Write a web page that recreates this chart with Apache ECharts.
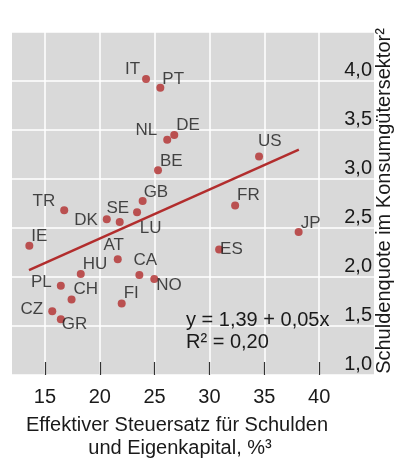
<!DOCTYPE html>
<html>
<head>
<meta charset="utf-8">
<script src="https://cdn.jsdelivr.net/npm/echarts@6/dist/echarts.min.js"></script>
<style>html,body{margin:0;padding:0;background:#fff}#c{width:396px;height:458px}</style>
</head>
<body>
<div id="c"></div>
<script>
// Data
const countries = ['IT','PT','NL','DE','BE','GB','TR','DK','SE','LU','IE','AT','HU','CA','NO','PL','CH','FI','CZ','GR','US','FR','JP','ES'];
const taxRate   = [24.22,25.52,26.15,26.79,25.31,23.91,16.76,20.64,23.40,21.82,13.58,21.64,18.27,23.61,24.97,16.45,17.43,22.00,15.67,16.45,34.52,32.34,38.13,30.88];
const debtRatio = [4.02,3.93,3.40,3.45,3.09,2.775,2.68,2.59,2.66,2.56,2.32,2.18,2.03,2.02,1.98,1.91,1.77,1.73,1.65,1.57,3.23,2.73,2.46,2.28];
const fitLine   = [[13.55, 2.07], [38.15, 3.30]];
const xTicks    = [15, 20, 25, 30, 35, 40];
const eqText    = 'y = 1,39 + 0,05x';
const r2Text    = 'R² = 0,20';

// Label placement (style): [align, dx, dy]
const labelPlace = {
  IT:['right',-2,-6], PT:['left',6,-5], NL:['right',-6,-5], DE:['left',6,-6], BE:['left',6,-5],
  GB:['left',5,-5], TR:['right',-5,-5], DK:['right',-5,5], SE:['right',-4,0], LU:['left',24,10],
  IE:['left',6,-5], AT:['center',0,-10], HU:['left',6,-6], CA:['center',10,-11], NO:['left',6,10],
  PL:['right',-5,0], CH:['left',6,-6], FI:['left',6,-6], CZ:['right',-5,2], GR:['left',5,9],
  US:['left',3,-11], FR:['left',6,-6], JP:['left',6,-5], ES:['left',5,4]
};

const RED = '#b22d2d';
const FONT = 'Liberation Sans, Arial, sans-serif';
const TXT = '#1a1a1a';

const points = countries.map((c, i) => {
  const p = labelPlace[c];
  return {
    name: c,
    value: [taxRate[i], debtRatio[i]],
    label: { position: [p[1], p[2]], align: p[0], verticalAlign: 'middle' }
  };
});

const chart = echarts.init(document.getElementById('c'), null, { renderer: 'canvas' });
chart.setOption({
  animation: false,
  backgroundColor: '#ffffff',
  grid: { left: 12, right: 22, top: 32, bottom: 83, show: true, backgroundColor: '#d9d9d9', borderWidth: 0 },
  xAxis: {
    type: 'value', min: 12, max: 45,
    axisLine: { show: false },
    axisTick: { show: true, inside: true, length: 13, customValues: xTicks, lineStyle: { color: '#333', width: 1.2 } },
    axisLabel: { customValues: xTicks, margin: 12, fontSize: 20, fontFamily: FONT, color: TXT },
    splitLine: { show: true, lineStyle: { color: '#ffffff', width: 1.5 } }
  },
  yAxis: {
    type: 'value', min: 1, max: 4.5, interval: 0.5, position: 'right',
    axisLine: { show: false }, axisTick: { show: false },
    axisLabel: {
      inside: true, margin: 2, verticalAlign: 'bottom', showMaxLabel: false,
      padding: [0, 0, 1, 0],
      fontSize: 20, fontFamily: FONT, color: TXT,
      formatter: v => (v >= 4.5 ? '' : v.toFixed(1).replace('.', ','))
    },
    splitLine: { show: true, lineStyle: { color: '#ffffff', width: 1.5 } }
  },
  series: [
    {
      type: 'line', data: fitLine, symbol: 'none', silent: true, z: 2,
      lineStyle: { color: RED, width: 2.5 }
    },
    {
      type: 'scatter', data: points, symbolSize: 8, z: 3,
      itemStyle: { color: RED },
      label: { show: true, formatter: '{b}', fontSize: 17, fontFamily: FONT, color: TXT }
    }
  ],
  graphic: [
    { type: 'text', x: 186, y: 320, z: 10, style: { text: eqText, font: '20px ' + FONT, fill: TXT, textAlign: 'left', textVerticalAlign: 'middle' } },
    { type: 'text', x: 186, y: 342, z: 10, style: { text: r2Text, font: '20px ' + FONT, fill: TXT, textAlign: 'left', textVerticalAlign: 'middle' } },
    { type: 'text', x: 177, y: 425, style: { text: 'Effektiver Steuersatz für Schulden', font: '20px ' + FONT, fill: TXT, textAlign: 'center', textVerticalAlign: 'middle' } },
    { type: 'text', x: 180, y: 448, style: { text: 'und Eigenkapital, %³', font: '20px ' + FONT, fill: TXT, textAlign: 'center', textVerticalAlign: 'middle' } },
    { type: 'text', x: 384, y: 201, rotation: Math.PI / 2, style: { text: 'Schuldenquote im Konsumgütersektor²', font: '20px ' + FONT, fill: TXT, textAlign: 'center', textVerticalAlign: 'middle' } }
  ]
});
</script>
</body>
</html>
